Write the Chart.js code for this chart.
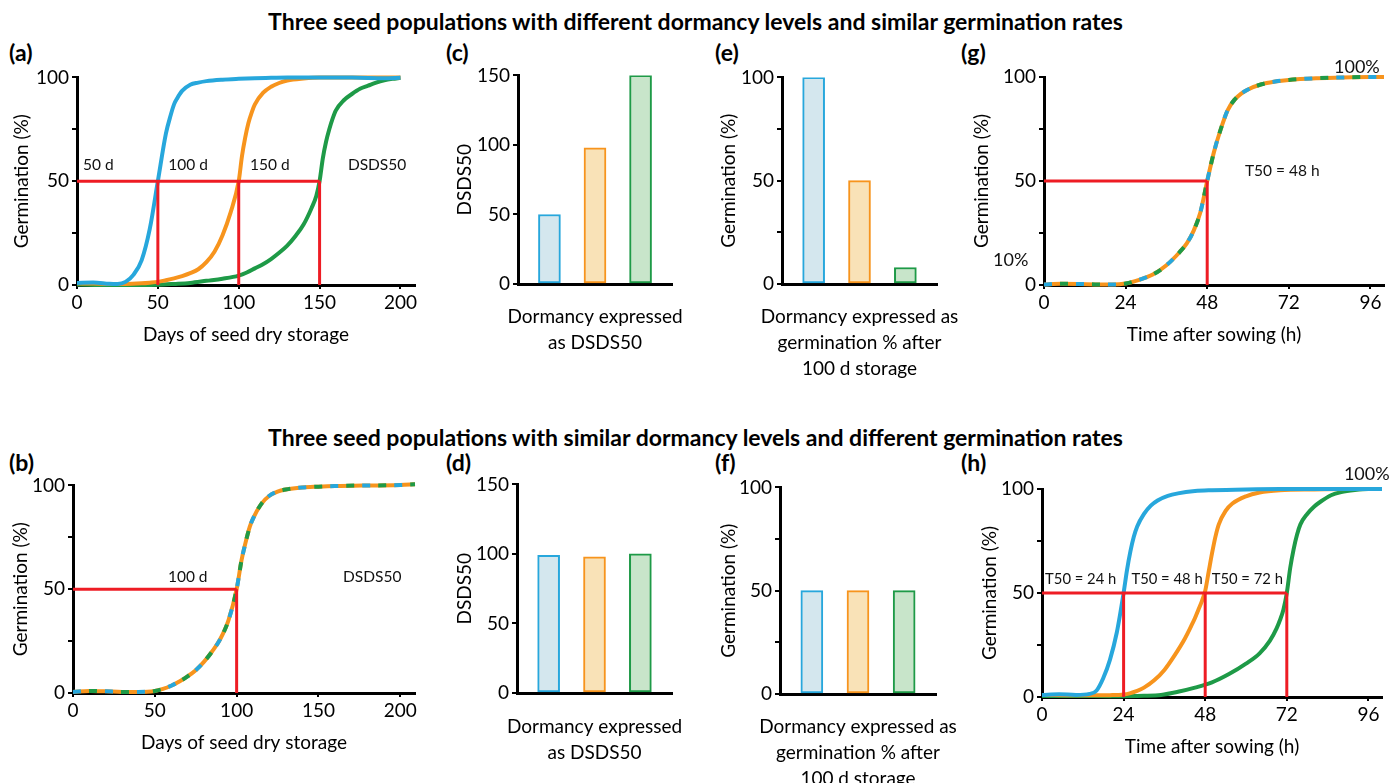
<!DOCTYPE html>
<html><head><meta charset="utf-8">
<script src="https://cdn.jsdelivr.net/npm/chart.js@4.4.0/dist/chart.umd.min.js"></script>
<style>
html,body{margin:0;padding:0;background:#fff;width:1391px;height:783px;overflow:hidden;font-family:Lato,"Open Sans",sans-serif;}
.t{position:absolute;font-weight:bold;color:#000;white-space:nowrap;line-height:1;}
canvas{position:absolute;}
</style></head><body>
<div class="t" style="left:0;width:1391px;text-align:center;top:10px;font-size:23px">Three seed populations with different dormancy levels and similar germination rates</div>
<div class="t" style="left:0;width:1391px;text-align:center;top:426px;font-size:23px">Three seed populations with similar dormancy levels and different germination rates</div>
<div class="t" style="left:9px;top:41px;font-size:23px">(a)</div>
<div class="t" style="left:446px;top:41px;font-size:23px">(c)</div>
<div class="t" style="left:715px;top:41px;font-size:23px">(e)</div>
<div class="t" style="left:961px;top:41px;font-size:23px">(g)</div>
<div class="t" style="left:9px;top:451px;font-size:23px">(b)</div>
<div class="t" style="left:446px;top:451px;font-size:23px">(d)</div>
<div class="t" style="left:715px;top:451px;font-size:23px">(f)</div>
<div class="t" style="left:961px;top:451px;font-size:23px">(h)</div>
<script>
// ---------------- DATA ----------------
// (a) days of dry storage, three populations (different dormancy)
const daysA_b    = [0,10,20,25,30,35,40,45,50,55,58,60,62,65,70,75,80,90,100,110,120,130,140,150,160,170,180,190,200];
const germA_blue = [1,1.2,0.6,0.5,1.5,5,12,27,50,73,82,87,90,93.5,96.5,97.5,98.2,98.9,99.3,99.6,99.8,100,100,100,100,99.9,99.7,99.6,99.8];
const daysA_o    = [0,10,20,30,40,45,50,55,60,65,70,75,80,85,90,95,100,102,104,106,108,110,115,120,125,130,140,150,160,180,200];
const germA_orng = [0.8,0.7,0.5,0.5,0.8,1.1,1.5,2.3,3.2,4.3,5.7,7.6,11,16,24,35,50,62,71,78,83,87,92.5,95.5,97.3,98.5,99.5,100,100,100,100];
const daysA_g    = [0,20,40,50,60,70,80,90,100,105,110,115,120,125,130,135,140,145,148,150,152,154,156,158,160,165,170,175,180,185,190,195,200];
const germA_gren = [0.3,0,0,0.1,0.5,1,2,3,4.5,6,8,10,12.5,15.5,19,23.5,29,37,43,50,61,69,75,80,84,89,92,94.5,96,97.5,98.6,99.3,99.8];
const dsds50A    = [50,100,150];
// (b) days of dry storage, three identical populations
const daysB      = [0,10,20,30,40,50,55,60,65,70,75,80,85,90,95,100,103,105,108,110,115,120,125,130,140,150,160,180,200,209];
const germB      = [0.5,1,0.8,0.5,0.5,1,2,3.5,5.5,8,11,15,20,26,35,50,64,71,80,84,91,95,97,98,99,99.4,99.7,100,100.2,100.5];
const dsds50B    = [100];
// bar charts (three populations, left to right)
const barPos     = [1, 2, 3];
const dsdsC      = [50, 98, 150];
const dsdsD      = [99, 98, 100];
const germE      = [100, 50, 8];
const germF      = [50, 50, 50];
// (g) hours after sowing, three identical populations
const hoursG     = [0,5,10,15,20,24,28,32,36,40,42,44,46,48,50,52,54,56,58,60,64,68,72,80,88,96,100];
const germG      = [0.2,0.6,0.5,0.3,0.2,0.7,2.5,5,9.5,16,20,26,35,50,64,75,84,89,92,94,96.5,97.8,98.6,99.4,99.8,100,100];
const t50G       = [48];
// (h) hours after sowing, three populations (different rates)
const hoursH_b   = [0,5,10,14,16,18,20,22,24,25,26,27,28,30,32,34,37,40,45,50,60,70,80,90,100];
const germH_b    = [1,1.3,1,1.5,3,9,18,31,50,61,70,77,82,88,92,94.5,96.7,97.9,99,99.4,99.8,100,100,100,100];
const hoursH_o   = [0,10,20,24,28,30,33,36,39,42,44,45,46,47,48,49,50,51,52,54,56,60,64,70,80,90,100];
const germH_o    = [1,0.8,0.9,1.2,3,4.5,8,13,20,28,34.5,38,42,46,51,60,69,77,83,89.5,93,96.5,98.3,99.4,99.8,100,100];
const hoursH_g   = [0,10,20,30,35,40,45,50,55,60,64,67,69,70,71,72,73,74,75,76,78,80,82,85,88,92,96,100];
const germH_g    = [0.5,0.5,0.4,0.6,1,2.5,4.5,7,11,16,21,27,33,37,42,50,62,71,78,83,88,91.5,94,97,98.5,99.5,100,100];
const t50H       = [24,48,72];
// tick labels
const ticksDays  = [0,50,100,150,200];
const ticksHours = [0,24,48,72,96];
const ticksPct   = [0,25,50,75,100];
const labPct     = [0,50,100];
const ticksDsds  = [0,50,100,150];

// ---------------- STYLE ----------------
const FONT = 'Lato, "Open Sans", sans-serif';
const COL = {blue:'#27a7dc', orange:'#f7941d', green:'#1e9a47', red:'#ee1c24',
             blueF:'#d4e7ee', orangeF:'#f9e2b7', greenF:'#c8e5ca'};
Chart.defaults.font.family = FONT;
Chart.defaults.color = '#000';
Chart.defaults.animation = false;
const TICK_SIZE = 19, TITLE_SIZE = 19, TITLE_LH = 22.8, BAR_LH = 26;

const annotPlugin = {
  id: 'annot',
  afterDatasetsDraw(chart, args, opts) {
    const {ctx} = chart; const x = chart.scales.x, y = chart.scales.y;
    (opts.items || []).forEach(it => {
      ctx.save();
      ctx.font = (it.size || 15.5) + 'px ' + FONT;
      ctx.fillStyle = '#111';
      ctx.textAlign = it.align || 'left';
      ctx.textBaseline = 'middle';
      ctx.fillText(it.text, x.getPixelForValue(it.x), y.getPixelForValue(it.y));
      ctx.restore();
    });
  },
  afterDraw(chart, args, opts) {
    const xt = opts.xtitle; if (!xt) return;
    const {ctx, chartArea} = chart;
    ctx.save();
    ctx.font = TITLE_SIZE + 'px ' + FONT;
    ctx.fillStyle = '#000';
    ctx.textAlign = 'center';
    ctx.textBaseline = 'middle';
    const cx = (chartArea.left + chartArea.right) / 2;
    xt.lines.forEach((ln, i) => ctx.fillText(ln, cx, chartArea.bottom + xt.dx + i * BAR_LH));
    ctx.restore();
  }
};

function pts(xs, ys) { return xs.map((x, i) => ({x: x, y: ys[i]})); }
function curve(xs, ys, color, extra) {
  return Object.assign({type: 'line', data: pts(xs, ys), borderColor: color, borderWidth: 4,
    pointRadius: 0, cubicInterpolationMode: 'monotone', clip: false, order: 2, fill: false}, extra || {});
}
function dashedCurve(xs, ys) {
  return [
    curve(xs, ys, COL.orange, {order: 3}),
    curve(xs, ys, COL.blue, {order: 2, borderDash: [8, 24], borderDashOffset: 0}),
    curve(xs, ys, COL.green, {order: 2, borderDash: [8, 24], borderDashOffset: 16})
  ];
}
function redLines(t50s, level) {
  const ds = [{data: [{x: 0, y: level}, {x: Math.max.apply(null, t50s), y: level}]}];
  t50s.forEach(t => ds.push({data: [{x: t, y: 0}, {x: t, y: level}]}));
  return ds.map(d => Object.assign(d, {type: 'line', borderColor: COL.red, borderWidth: 3,
    pointRadius: 0, order: 0, clip: false, borderCapStyle: 'butt', fill: false}));
}

function yScale(max, ticks, labels, titleText, yw, d) {
  return {
    type: 'linear', min: 0, max: max,
    afterBuildTicks: s => { s.ticks = ticks.map(v => ({value: v})); },
    afterFit: s => { s.width = yw; },
    ticks: {font: {size: TICK_SIZE}, color: '#000', padding: 3,
      callback: v => labels.indexOf(v) >= 0 ? String(v) : ''},
    grid: {display: true, drawOnChartArea: false, drawTicks: true, tickLength: 5, color: '#000', lineWidth: 2},
    border: {display: true, color: '#000', width: 3},
    title: {display: true, text: titleText, font: {size: TITLE_SIZE, lineHeight: 1.2}, color: '#000',
      padding: {top: yw - d - TITLE_LH / 2, bottom: 0}}
  };
}
function xLinear(max, ticks, titleText, xh, dx) {
  return {
    type: 'linear', min: 0, max: max,
    afterBuildTicks: s => { s.ticks = ticks.map(v => ({value: v})); },
    afterFit: s => { s.height = xh; },
    ticks: {font: {size: TICK_SIZE}, color: '#000', padding: 2, maxRotation: 0},
    grid: {display: true, drawOnChartArea: false, drawTicks: true, tickLength: 4, color: '#000', lineWidth: 2},
    border: {display: true, color: '#000', width: 3},
    title: {display: true, text: titleText, font: {size: TITLE_SIZE, lineHeight: 1.2}, color: '#000',
      padding: {top: 0, bottom: xh - dx - TITLE_LH / 2}}
  };
}
function xBars(xh) {
  return {
    type: 'linear', min: 0.31, max: 3.69, offset: false,
    afterFit: s => { s.height = xh; },
    ticks: {display: false},
    grid: {display: false, offset: false},
    border: {display: true, color: '#000', width: 3},
    title: {display: false}
  };
}

function panel(box, type, datasets, scales, items, xtitle) {
  const c = document.createElement('canvas');
  const left = box.x0 - box.yw, top = box.yt - box.pt;
  const w = box.yw + (box.x1 - box.x0) + box.pr, h = box.pt + (box.yb - box.yt) + box.xh;
  c.width = w; c.height = h;
  c.style.left = left + 'px'; c.style.top = top + 'px';
  c.style.width = w + 'px'; c.style.height = h + 'px';
  document.body.appendChild(c);
  new Chart(c, {
    type: type,
    data: {datasets: datasets},
    options: {
      responsive: false, animation: false, devicePixelRatio: 1,
      layout: {padding: {left: 0, top: box.pt, right: box.pr, bottom: 0}},
      scales: scales,
      plugins: {legend: {display: false}, tooltip: {enabled: false}, annot: {items: items || [], xtitle: xtitle || null}}
    },
    plugins: [annotPlugin]
  });
}
function bars(values) {
  return [{type: 'bar', data: pts(barPos, values), barThickness: 22, borderWidth: 2, borderSkipped: false,
    backgroundColor: [COL.blueF, COL.orangeF, COL.greenF], borderColor: [COL.blue, COL.orange, COL.green]}];
}
const titleCD = ['Dormancy expressed', 'as DSDS50'];
const titleEF = ['Dormancy expressed as', 'germination % after', '100 d storage'];

// (a)
panel({x0: 77, x1: 415, yt: 77, yb: 285, yw: 70, pt: 14, pr: 8, xh: 75}, 'line',
  [curve(daysA_b, germA_blue, COL.blue), curve(daysA_o, germA_orng, COL.orange), curve(daysA_g, germA_gren, COL.green)]
    .concat(redLines(dsds50A, 50)),
  {x: xLinear(209, ticksDays, 'Days of seed dry storage', 75, 50), y: yScale(100, ticksPct, labPct, 'Germination (%)', 70, 55)},
  [{text: '50 d', x: 3.7, y: 57.7}, {text: '100 d', x: 56.5, y: 57.7}, {text: '150 d', x: 107, y: 57.7}, {text: 'DSDS50', x: 167.5, y: 57.7}]);
// (b)
panel({x0: 73, x1: 415, yt: 485, yb: 693, yw: 70, pt: 14, pr: 8, xh: 75}, 'line',
  dashedCurve(daysB, germB).concat(redLines(dsds50B, 50)),
  {x: xLinear(209, ticksDays, 'Days of seed dry storage', 75, 50), y: yScale(100, ticksPct, labPct, 'Germination (%)', 70, 52)},
  [{text: '100 d', x: 58, y: 55.8}, {text: 'DSDS50', x: 165, y: 55.8}]);
// (c)
panel({x0: 518, x1: 672, yt: 75, yb: 284, yw: 70, pt: 14, pr: 24, xh: 80}, 'bar',
  bars(dsdsC),
  {x: xBars(80), y: yScale(150, ticksDsds, ticksDsds, 'DSDS50', 70, 53)}, [], {lines: titleCD, dx: 33});
// (d)
panel({x0: 517, x1: 672, yt: 484, yb: 693, yw: 70, pt: 14, pr: 24, xh: 80}, 'bar',
  bars(dsdsD),
  {x: xBars(80), y: yScale(150, ticksDsds, ticksDsds, 'DSDS50', 70, 52)}, [], {lines: titleCD, dx: 34});
// (e)
panel({x0: 782, x1: 937, yt: 77, yb: 284, yw: 70, pt: 14, pr: 26, xh: 100}, 'bar',
  bars(germE),
  {x: xBars(100), y: yScale(100, ticksPct, labPct, 'Germination (%)', 70, 53)}, [], {lines: titleEF, dx: 33});
// (f)
panel({x0: 780, x1: 936, yt: 487, yb: 694, yw: 70, pt: 14, pr: 26, xh: 100}, 'bar',
  bars(germF),
  {x: xBars(100), y: yScale(100, ticksPct, labPct, 'Germination (%)', 70, 51)}, [], {lines: titleEF, dx: 33});
// (g)
panel({x0: 1044, x1: 1384, yt: 77, yb: 285, yw: 80, pt: 22, pr: 7, xh: 75}, 'line',
  dashedCurve(hoursG, germG).concat(redLines(t50G, 50)),
  {x: xLinear(100, ticksHours, 'Time after sowing (h)', 75, 50), y: yScale(100, ticksPct, labPct, 'Germination (%)', 80, 62)},
  [{text: 'T50 = 48 h', x: 59.1, y: 54.8}, {text: '100%', x: 85.3, y: 104.8, size: 18}, {text: '10%', x: -15, y: 12, size: 18}]);
// (h)
panel({x0: 1042, x1: 1382, yt: 489, yb: 697, yw: 70, pt: 26, pr: 9, xh: 75}, 'line',
  [curve(hoursH_b, germH_b, COL.blue), curve(hoursH_o, germH_o, COL.orange), curve(hoursH_g, germH_g, COL.green)]
    .concat(redLines(t50H, 50)),
  {x: xLinear(100, ticksHours, 'Time after sowing (h)', 75, 50), y: yScale(100, ticksPct, labPct, 'Germination (%)', 70, 52)},
  [{text: 'T50 = 24 h', x: 0.9, y: 56.7, size: 14.8}, {text: 'T50 = 48 h', x: 26.3, y: 56.7, size: 14.8}, {text: 'T50 = 72 h', x: 49.9, y: 56.7, size: 14.8}, {text: '100%', x: 88.8, y: 107, size: 18}]);
</script>
</body></html>
